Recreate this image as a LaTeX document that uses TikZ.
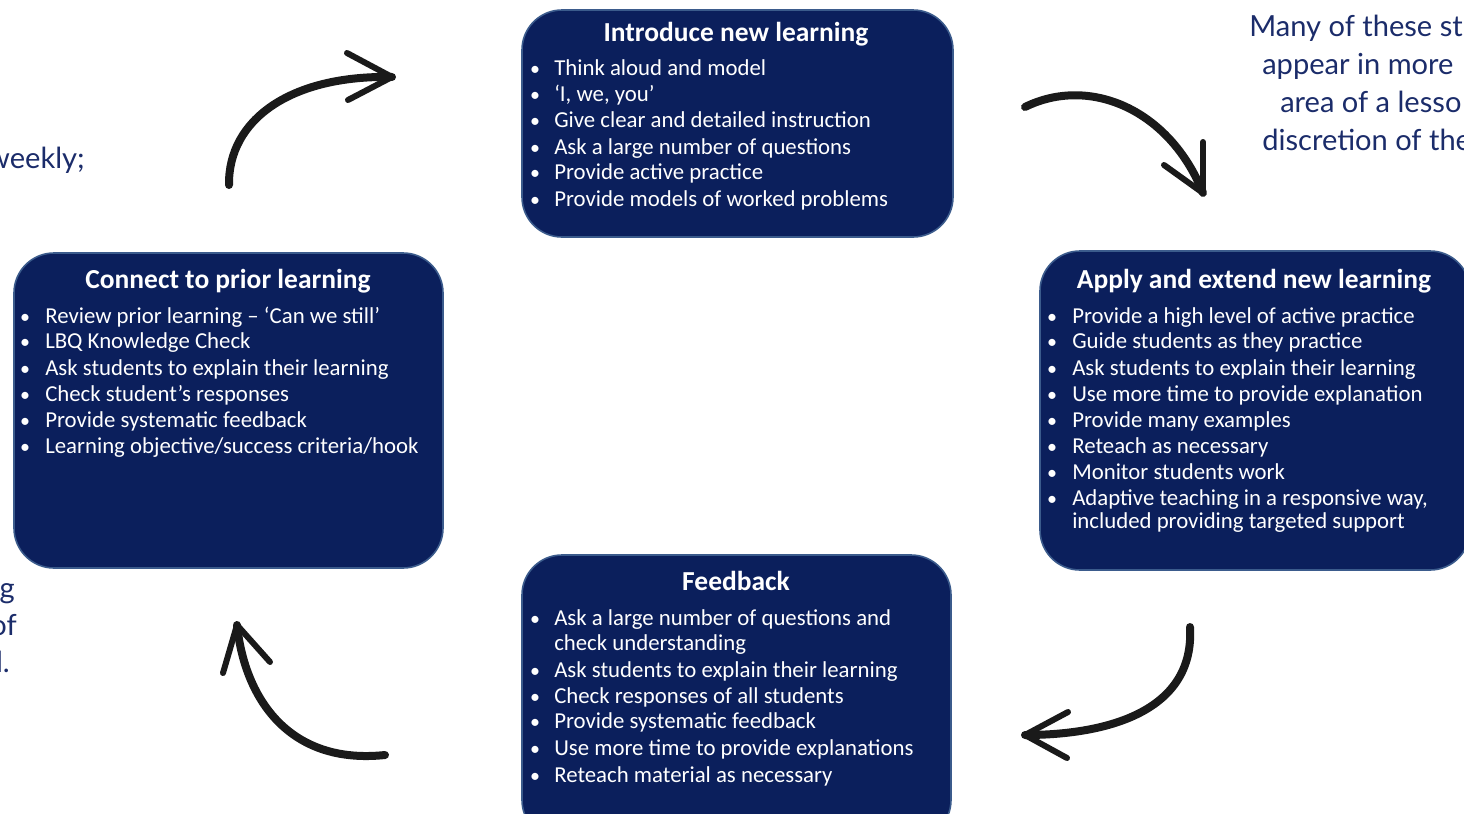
\documentclass[tikz,border=0pt]{standalone}
\usepackage{fontspec}
\setmainfont{Carlito}
\newfontfamily\outfont{Lato}
\definecolor{navy}{HTML}{0B1F5C}
\definecolor{edgeblue}{HTML}{3B5B8C}
\definecolor{ink}{HTML}{1B2C6A}
\definecolor{arrowblack}{HTML}{1A1A1A}
\begin{document}
\begin{tikzpicture}[x=0.75pt,y=-0.75pt,
  stage/.style={draw=edgeblue, line width=1.2pt, fill=navy, rounded corners=30pt, inner sep=0},
  title/.style={anchor=base, text=white, font=\fontsize{20.6}{22}\selectfont\bfseries, inner sep=0},
  item/.style={anchor=base west, text=white, font=\fontsize{17.1}{19.5}\selectfont, inner sep=0},
  bul/.style={anchor=base, text=white, font=\fontsize{15}{19.5}\selectfont, inner sep=0},
  side/.style={text=ink, font=\outfont\fontsize{21.8}{28}\selectfont, inner sep=0},
  curve/.style={draw=arrowblack, line width=6pt, line cap=round},
  head/.style={draw=arrowblack, line width=4.5pt, line cap=round}]
\useasboundingbox (0,0) rectangle (1464,814);
\clip (0,0) rectangle (1464,814);

% boxes
\node[stage, minimum width=431*0.75pt, minimum height=227*0.75pt] (intro) at (737.5,123.5) {};
\node[stage, minimum width=429*0.75pt, minimum height=315*0.75pt] (prior) at (228.5,410.5) {};
\node[stage, minimum width=430*0.75pt, minimum height=319*0.75pt] (apply) at (1255,410.5) {};
\node[stage, minimum width=429*0.75pt, minimum height=285*0.75pt] (feed) at (736.5,697.5) {};

% titles
\node[title] (intro-t) at (736,41) {Introduce new learning};
\node[title] (prior-t) at (228,288) {Connect to prior learning};
\node[title] (apply-t) at (1254,288) {Apply and extend new learning};
\node[title] (feed-t) at (736,590) {Feedback};

% introduce items
\foreach \y/\t [count=\i] in {75/{Think aloud and model},101/{‘I, we, you’},127/{Give clear and detailed instruction},154/{Ask a large number of questions},179/{Provide active practice},206/{Provide models of worked problems}}{
  \node[bul] (intro-b\i) at (535,\y) {•};
  \node[item] (intro-\i) at (554,\y) {\t};
}
% prior items
\foreach \y/\t [count=\i] in {323/{Review prior learning – ‘Can we still’},348/{LBQ Knowledge Check},375/{Ask students to explain their learning},401/{Check student’s responses},427/{Provide systematic feedback},453/{Learning objective/success criteria/hook}}{
  \node[bul] (prior-b\i) at (25,\y) {•};
  \node[item] (prior-\i) at (45,\y) {\t};
}
% apply items
\foreach \y/\t [count=\i] in {323/{Provide a high level of active practice},348/{Guide students as they practice},375/{Ask students to explain their learning},401/{Use more time to provide explanation},427/{Provide many examples},453/{Reteach as necessary},479/{Monitor students work},505/{Adaptive teaching in a responsive way,}}{
  \node[bul] (apply-b\i) at (1052,\y) {•};
  \node[item] (apply-\i) at (1072,\y) {\t};
}
\node[item] (apply-9) at (1072,528) {included providing targeted support};
% feedback items
\foreach \y/\t [count=\i] in {625/{Ask a large number of questions and},677/{Ask students to explain their learning},703/{Check responses of all students},728/{Provide systematic feedback},755/{Use more time to provide explanations},782/{Reteach material as necessary}}{
  \node[bul] (feed-b\i) at (535,\y) {•};
  \node[item] (feed-\i) at (554,\y) {\t};
}
\node[item] (feed-c) at (554,650) {check understanding};

% side texts
\node[side, anchor=base east] (wk) at (85,168) {weekly;};
\node[side, anchor=base east] (l1) at (15,598) {g};
\node[side, anchor=base east] (l2) at (17,635) {of};
\node[side, anchor=base east] (l3) at (10,672) {l.};
\node[side, anchor=base west] (r1) at (1249,36) {Many of these st};
\node[side, anchor=base west] (r2) at (1262,74) {appear in more};
\node[side, anchor=base west] (r3) at (1280,112) {area of a lesso};
\node[side, anchor=base west] (r4) at (1262,150) {discretion of the};

% arrows
\coordinate (a1s) at (229,185); \coordinate (a1e) at (392,77);
\draw[curve] (a1s) .. controls (228,120) and (290,75) .. (a1e);
\draw[head] (a1e) -- (347,53); \draw[head] (a1e) -- (348,100);

\coordinate (a2s) at (1025,107); \coordinate (a2e) at (1203,193);
\draw[curve] (a2s) .. controls (1090,75) and (1170,110) .. (a2e);
\draw[head] (a2e) -- (1203,142); \draw[head] (a2e) -- (1164,165);

\coordinate (a3s) at (1190,627); \coordinate (a3e) at (1025,735);
\draw[curve] (a3s) .. controls (1195,710) and (1110,735) .. (a3e);
\draw[head] (a3e) -- (1068,712); \draw[head] (a3e) -- (1067,758);

\coordinate (a4s) at (385,755); \coordinate (a4e) at (237,625);
\draw[curve] (a4s) .. controls (290,765) and (245,700) .. (a4e);
\draw[head] (a4e) -- (223,673); \draw[head] (a4e) -- (270,662);
\end{tikzpicture}
\end{document}
